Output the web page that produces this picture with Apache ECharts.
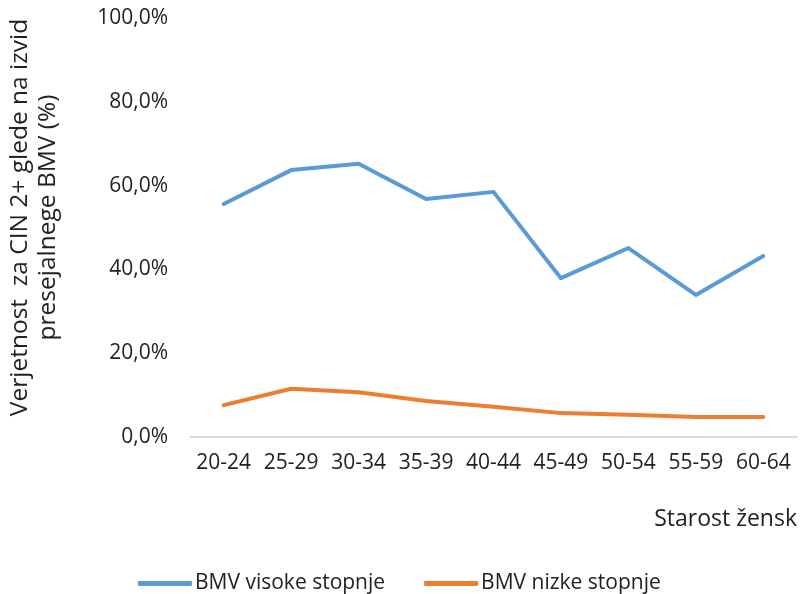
<!DOCTYPE html>
<html>
<head>
<meta charset="utf-8">
<script src="https://cdn.jsdelivr.net/npm/echarts@6/dist/echarts.min.js"></script>
<style>
	html, body { margin: 0; padding: 0; background: #fff; }
	#chart { width: 802px; height: 594px; }
</style>
</head>
<body>
<div id="chart"></div>
<script>
// starostne skupine
const ageGroups = ['20-24', '25-29', '30-34', '35-39', '40-44', '45-49', '50-54', '55-59', '60-64'];
// verjetnost CIN2+ (%)
const highGrade = [55.6, 63.7, 65.2, 56.8, 58.5, 37.9, 45.1, 33.9, 43.2];
const lowGrade = [7.6, 11.5, 10.7, 8.6, 7.2, 5.7, 5.3, 4.8, 4.8];
const seriesNames = ['BMV visoke stopnje', 'BMV nizke stopnje'];

const font = 'Open Sans';
const txt = '#222';

const chart = echarts.init(document.getElementById('chart'));

chart.setOption({
	animation: false,
	color: ['#5B9BD5', '#ED7D31'],
	grid: { left: 190, right: 5, top: 18, bottom: 157, containLabel: false, outerBoundsMode: 'none' },
	legend: {
		top: 568,
		left: 133,
		icon: 'roundRect',
		itemWidth: 54,
		itemHeight: 5,
		itemGap: 39,
		textStyle: { fontFamily: font, fontSize: 21, color: txt, padding: [0, 0, 0, -2] },
		data: seriesNames
	},
	xAxis: {
		type: 'category',
		data: ageGroups,
		name: 'Starost žensk',
		nameLocation: 'end',
		nameGap: 0,
		nameTextStyle: {
			fontFamily: font, fontSize: 23, color: txt,
			align: 'right', verticalAlign: 'top', padding: [71, 0, 0, 0]
		},
		axisLine: { lineStyle: { color: '#d0d0d0', width: 1.5 } },
		axisTick: { show: false },
		axisLabel: { fontFamily: font, fontSize: 21, color: txt, margin: 16, interval: 0, hideOverlap: false }
	},
	yAxis: {
		type: 'value',
		min: 0,
		max: 100,
		interval: 20,
		name: 'Verjetnost  za CIN 2+ glede na izvid\npresejalnege BMV (%)',
		nameLocation: 'middle',
		nameRotate: 90,
		nameGap: 128,
		nameTextStyle: { fontFamily: font, fontSize: 24.5, color: txt, lineHeight: 28, padding: [0, 0, 0, 20] },
		splitLine: { show: false },
		axisLine: { show: false },
		axisTick: { show: false },
		axisLabel: {
			fontFamily: font, fontSize: 21, color: txt, margin: 22,
			formatter: v => v.toFixed(1).replace('.', ',') + '%'
		}
	},
	series: [
		{
			name: seriesNames[0],
			type: 'line',
			data: highGrade,
			symbol: 'none',
			lineStyle: { width: 4, cap: 'round', join: 'round' }
		},
		{
			name: seriesNames[1],
			type: 'line',
			data: lowGrade,
			symbol: 'none',
			lineStyle: { width: 4, cap: 'round', join: 'round' }
		}
	]
});
</script>
</body>
</html>
